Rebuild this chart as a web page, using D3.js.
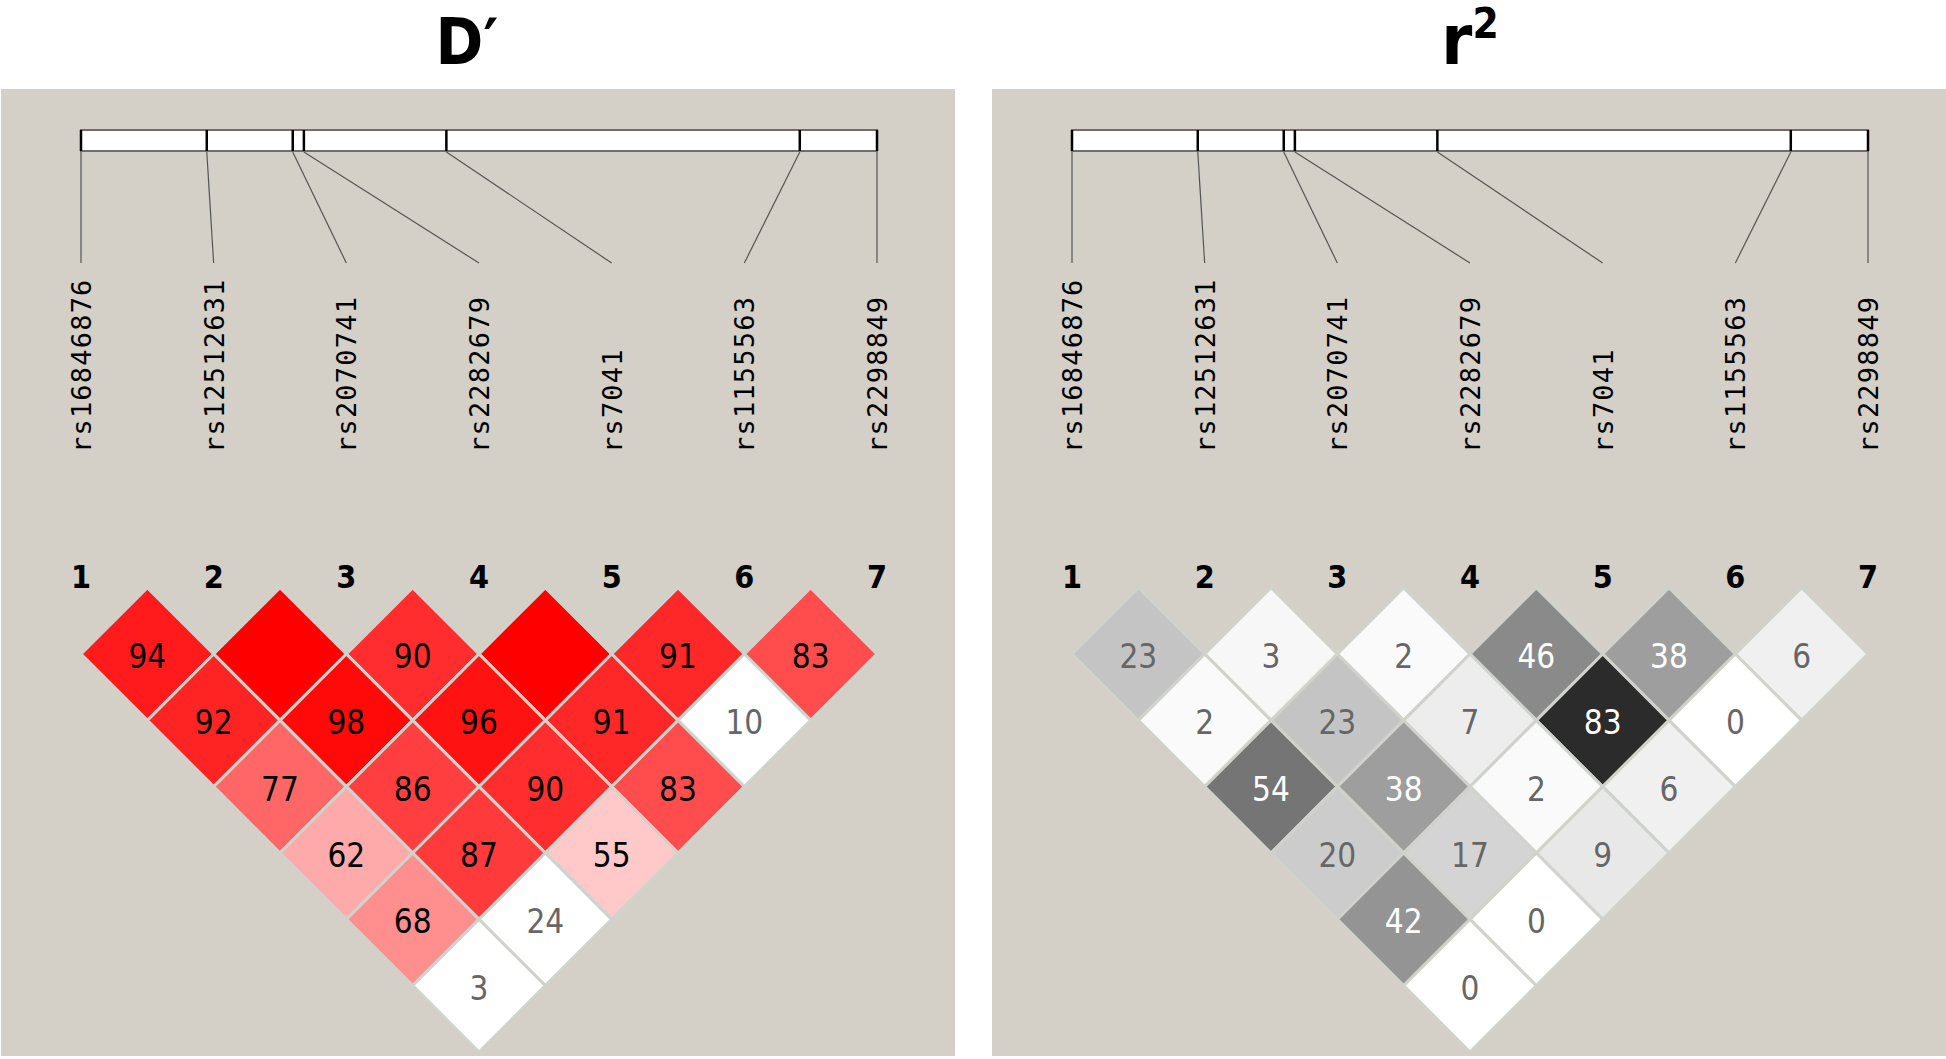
<!DOCTYPE html>
<html>
<head>
<meta charset="utf-8">
<script src="https://cdn.jsdelivr.net/npm/d3@7/dist/d3.min.js"></script>
<style>
body { margin:0; background:#ffffff; }
</style>
</head>
<body>
<div id="chart"></div>
<script>
// SNP markers and their map positions along the region bar (relative units, 0..100)
var snps = ["rs16846876","rs12512631","rs2070741","rs2282679","rs7041","rs1155563","rs2298849"];
var snpPos = [0, 15.8, 26.6, 28.0, 45.9, 90.3, 100];
var markerNums = ["1","2","3","4","5","6","7"];

// LD values, one array per diagonal: row k holds pairs (i, i+k+1)
var dPrimeRows = [
    [94, 100, 90, 100, 91, 83],
    [92, 98, 96, 91, 10],
    [77, 86, 90, 83],
    [62, 87, 55],
    [68, 24],
    [3]
];
var rSqRows = [
    [23, 3, 2, 46, 38, 6],
    [2, 23, 7, 83, 0],
    [54, 38, 2, 6],
    [20, 17, 9],
    [42, 0],
    [0]
];

var W = 1946, H = 1059;
var panelColor = "#d4d0c8";
var narrow = "'Liberation Sans Narrow','DejaVu Sans',sans-serif";
var mono = "'DejaVu Sans Mono','Liberation Mono',monospace";

var svg = d3.select("#chart").append("svg")
            .attr("width", W)
            .attr("height", H);

// D' : white below ~0.43, full red at 1 (clamped)
var dColor = d3.scaleLinear().domain([43, 100]).range(["#ffffff", "#ff0000"]).clamp(true);
// r^2 : white to black
var rColor = d3.scaleLinear().domain([0, 100]).range(["#ffffff", "#000000"]);

function drawPanel(offsetX, panelW, rows, fill, textFill, hideFull) {
    var g = svg.append("g").attr("transform", "translate(" + offsetX + ",0)");

    //backdrop
    g.append("rect")
        .attr("x", 0)
        .attr("y", 89)
        .attr("width", panelW)
        .attr("height", 967)
        .attr("fill", panelColor);

    var xM = d3.scalePoint().domain(d3.range(snps.length)).range([80, 876]);
    var xBar = d3.scaleLinear().domain([0, 100]).range([80, 876]);
    var half = xM.step() / 2;
    var y0 = 654;

    //region bar
    g.append("rect")
        .attr("x", xBar(0))
        .attr("y", 130)
        .attr("width", xBar(100) - xBar(0))
        .attr("height", 21)
        .attr("fill", "#ffffff")
        .attr("stroke", "#6e6e6e")
        .attr("stroke-width", 2);

    g.selectAll("line.tick")
        .data(snpPos)
        .enter()
        .append("line")
        .attr("class", "tick")
        .attr("x1", function(d) { return xBar(d); })
        .attr("x2", function(d) { return xBar(d); })
        .attr("y1", 130)
        .attr("y2", 151)
        .attr("stroke", "#000")
        .attr("stroke-width", 2.5);

    //connectors from bar to marker labels
    g.selectAll("line.conn")
        .data(snpPos)
        .enter()
        .append("line")
        .attr("class", "conn")
        .attr("x1", function(d) { return xBar(d); })
        .attr("y1", 152)
        .attr("x2", function(d, i) { return xM(i); })
        .attr("y2", 263)
        .attr("stroke", "#555")
        .attr("stroke-width", 1.2);

    //rotated snp names
    g.selectAll("text.snp")
        .data(snps)
        .enter()
        .append("text")
        .attr("class", "snp")
        .attr("transform", function(d, i) { return "translate(" + (xM(i) + 10) + ",453) rotate(-90)"; })
        .attr("font-family", mono)
        .attr("font-size", 27)
        .attr("letter-spacing", 1.2)
        .attr("fill", "#000")
        .text(function(d) { return d; });

    //marker numbers
    g.selectAll("text.num")
        .data(markerNums)
        .enter()
        .append("text")
        .attr("class", "num")
        .attr("x", function(d, i) { return xM(i); })
        .attr("y", 588)
        .attr("text-anchor", "middle")
        .attr("font-family", narrow)
        .attr("font-stretch", "condensed")
        .attr("font-weight", "bold")
        .attr("font-size", 32)
        .attr("fill", "#000")
        .text(function(d) { return d; });

    //flatten cells
    var cells = [];
    rows.forEach(function(row, k) {
        row.forEach(function(v, i) {
            cells.push({ i: i, j: i + k + 1, k: k, v: v });
        });
    });

    var cg = g.selectAll("g.cell")
        .data(cells)
        .enter()
        .append("g")
        .attr("class", "cell")
        .attr("transform", function(d) {
            var cx = (xM(d.i) + xM(d.j)) / 2;
            var cy = y0 + d.k * half;
            return "translate(" + cx + "," + cy + ")";
        });

    cg.append("polygon")
        .attr("points", [[0, -half], [half, 0], [0, half], [-half, 0]].join(" "))
        .attr("fill", function(d) { return fill(d.v); })
        .attr("stroke", "#cfd3cb")
        .attr("stroke-width", 3);

    cg.filter(function(d) { return !(hideFull && d.v >= 100); })
        .append("text")
        .attr("x", 0)
        .attr("y", 14)
        .attr("text-anchor", "middle")
        .attr("font-family", narrow)
        .attr("font-stretch", "condensed")
        .attr("font-size", 33)
        .attr("fill", function(d) { return textFill(d.v); })
        .text(function(d) { return d.v; });

    return g;
}

drawPanel(1, 954, dPrimeRows, dColor, function(v) { return v < 43 ? "#666" : "#000"; }, true);
drawPanel(992, 954, rSqRows, rColor, function(v) { return v >= 30 ? "#fff" : "#666"; }, false);

//titles
svg.append("text")
    .attr("x", 467)
    .attr("y", 64)
    .attr("text-anchor", "middle")
    .attr("font-family", narrow)
    .attr("font-stretch", "condensed")
    .attr("font-weight", "bold")
    .attr("font-size", 64)
    .attr("fill", "#000")
    .text("D\u2032");

var rt = svg.append("text")
    .attr("x", 1470)
    .attr("y", 64)
    .attr("text-anchor", "middle")
    .attr("font-family", narrow)
    .attr("font-stretch", "condensed")
    .attr("font-weight", "bold")
    .attr("font-size", 70)
    .attr("fill", "#000");
rt.append("tspan").text("r");
rt.append("tspan")
    .attr("font-size", 42)
    .attr("dy", -26)
    .text("2");
</script>
</body>
</html>
